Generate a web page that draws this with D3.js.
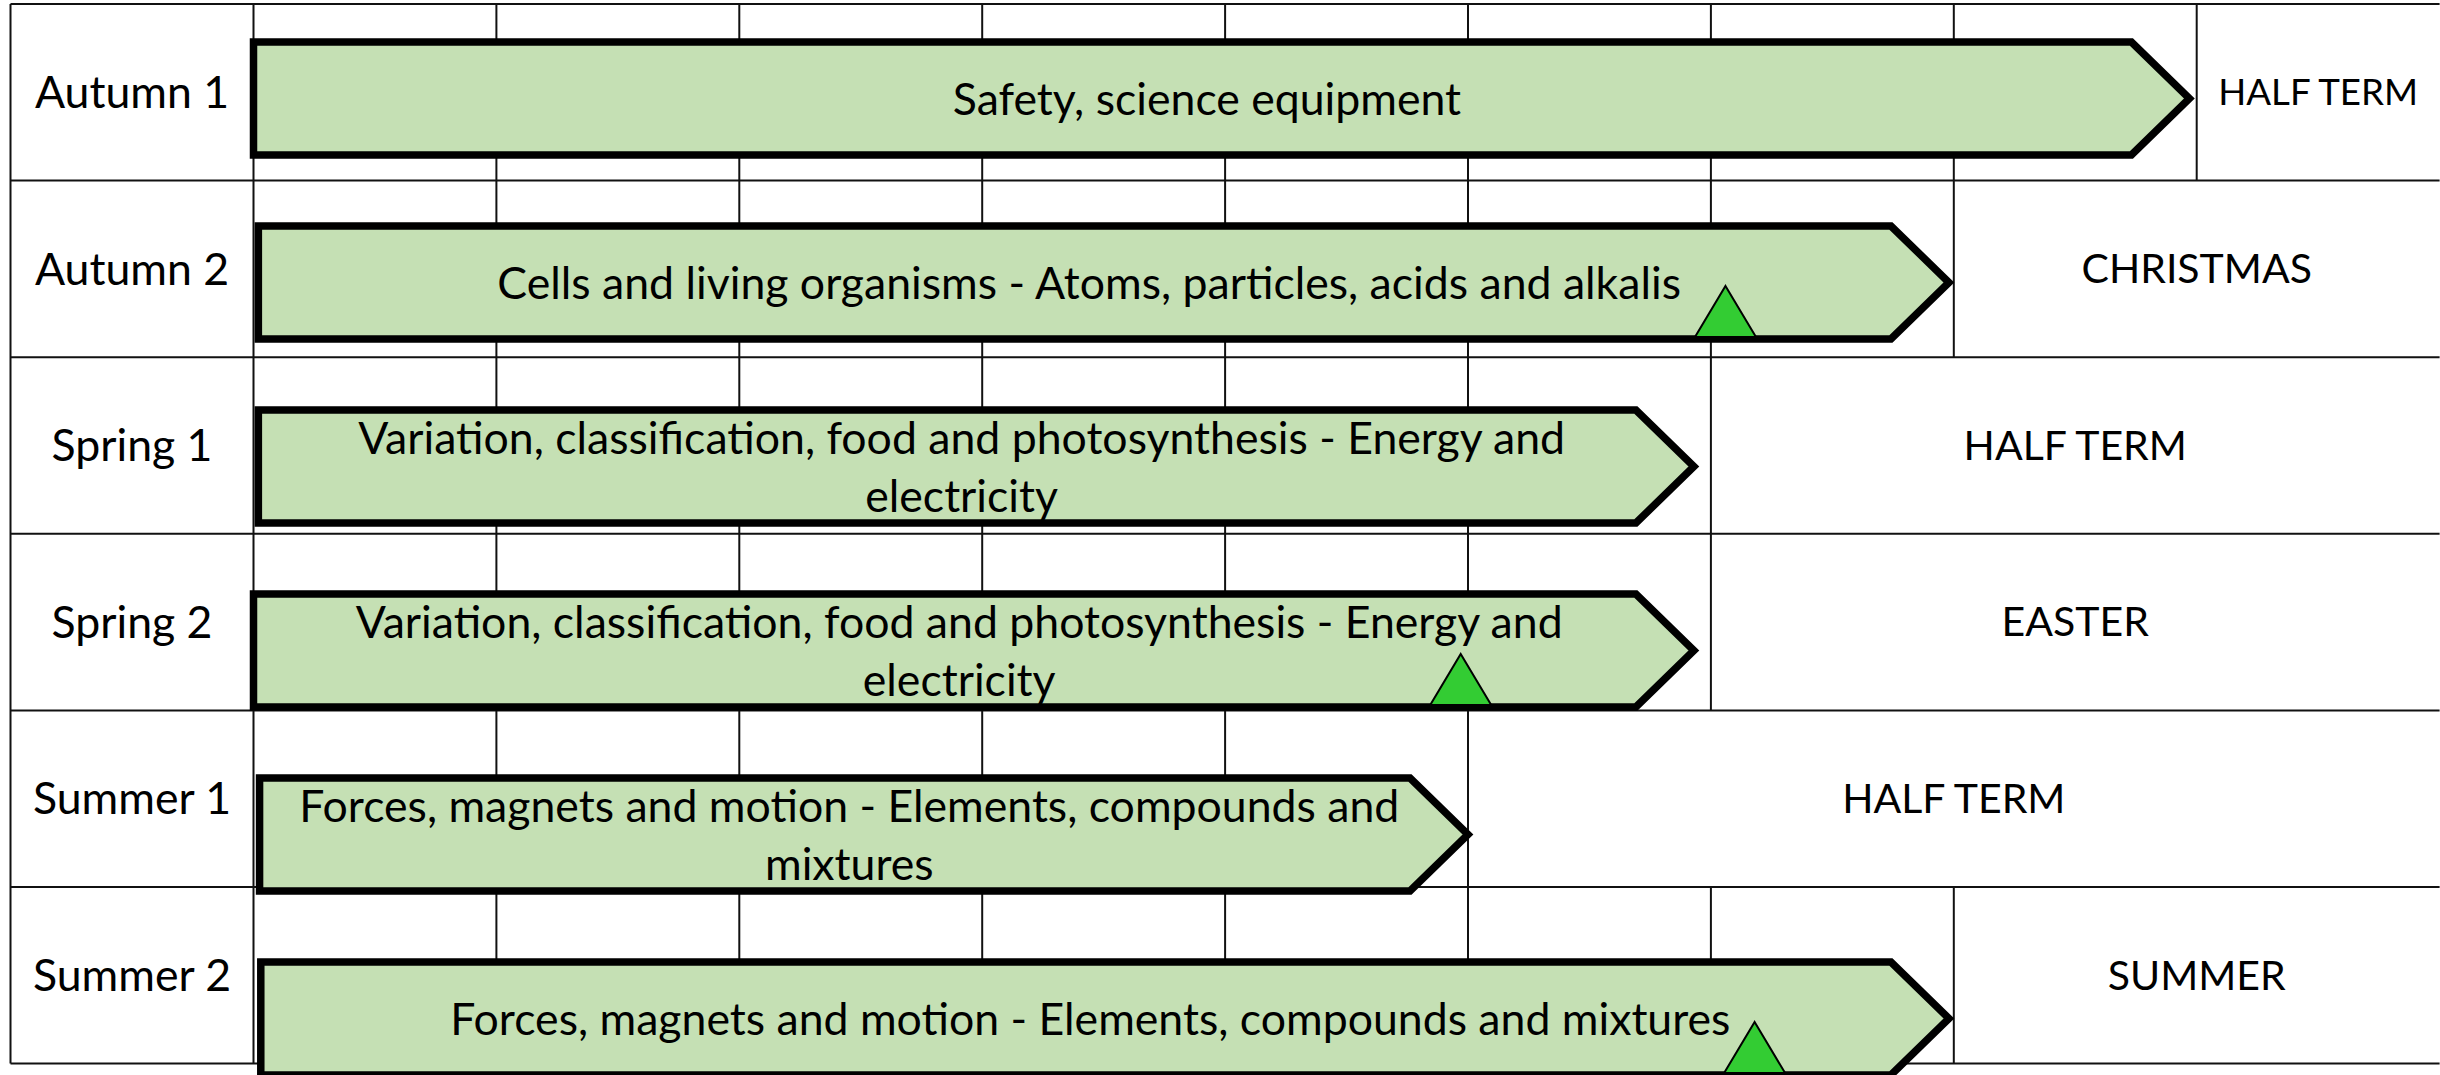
<!DOCTYPE html>
<html>
<head>
<meta charset="utf-8">
<script src="https://cdn.jsdelivr.net/npm/d3@7"></script>
<style>
  html, body { margin: 0; padding: 0; background: #ffffff; }
  svg { display: block; }
  text { font-family: Lato, "Open Sans", sans-serif; fill: #000; }
</style>
</head>
<body>
<svg id="chart" width="2440" height="1075"></svg>
<script>
// ---- data ----
const terms = ["Autumn 1", "Autumn 2", "Spring 1", "Spring 2", "Summer 1", "Summer 2"];
const topicLines = [
  ["Safety, science equipment"],
  ["Cells and living organisms - Atoms, particles, acids and alkalis"],
  ["Variation, classification, food and photosynthesis - Energy and", "electricity"],
  ["Variation, classification, food and photosynthesis - Energy and", "electricity"],
  ["Forces, magnets and motion - Elements, compounds and", "mixtures"],
  ["Forces, magnets and motion - Elements, compounds and mixtures"]
];
const topicStartWeek = [0, 0.02, 0.02, 0, 0.025, 0.03];
const topicEndWeek = [7.97, 6.98, 5.93, 5.93, 5.0, 6.98];
const holidayLabels = ["HALF TERM", "CHRISTMAS", "HALF TERM", "EASTER", "HALF TERM", "SUMMER"];
const holidayStartWeek = [8, 7, 6, 6, 5, 7];
const assessmentWeek = [null, 6.06, null, 4.97, null, 6.18];
const totalWeeks = 9;

// ---- layout ----
const W = 2440, H = 1075;
const tableLeft = 10.5, tableTop = 4, tableBottom = 1063.6;
const labelRight = 253.5, tableRight = 2439.6;
const fontSize = 44.6;
const holidayFont = 41, holidayFontNarrow = 36.7;
const arrowH = 113, chevron = 58;

const svg = d3.select("#chart");
svg.append("rect").attr("width", W).attr("height", H).attr("fill", "#fff");

const x = d3.scaleLinear().domain([0, totalWeeks]).range([labelRight, tableRight]);
const row = d3.scaleBand().domain(terms).range([tableTop, tableBottom]).padding(0);
const arrowTop = d3.scaleLinear().domain([0, terms.length - 1]).range([42, 962]);

const rows = terms.map((t, i) => ({
  term: t, i,
  lines: topicLines[i],
  start: topicStartWeek[i],
  end: topicEndWeek[i],
  holiday: holidayLabels[i],
  hStart: holidayStartWeek[i],
  assess: assessmentWeek[i]
}));

// ---- grid ----
const grid = svg.append("g").attr("stroke", "#111").attr("stroke-width", 2).attr("fill", "none");
rows.forEach(r => {
  const y0 = row(r.term), y1 = y0 + row.bandwidth();
  d3.range(1, r.hStart + 1).forEach(k => {
    grid.append("line").attr("x1", x(k)).attr("x2", x(k)).attr("y1", y0).attr("y2", y1);
  });
});
[tableLeft, labelRight].forEach(xx => {
  grid.append("line").attr("x1", xx).attr("x2", xx).attr("y1", tableTop).attr("y2", tableBottom);
});
d3.range(0, terms.length + 1).forEach(i => {
  const yy = i < terms.length ? row(terms[i]) : tableBottom;
  grid.append("line").attr("x1", tableLeft).attr("x2", tableRight).attr("y1", yy).attr("y2", yy);
});

// ---- row labels ----
svg.append("g").selectAll("text").data(rows).join("text")
  .attr("x", (tableLeft + labelRight) / 2)
  .attr("y", d => row(d.term) + row.bandwidth() / 2)
  .attr("dy", "0.35em")
  .attr("text-anchor", "middle")
  .attr("font-size", fontSize)
  .text(d => d.term);

// ---- holiday labels ----
svg.append("g").selectAll("text").data(rows).join("text")
  .attr("x", d => (x(d.hStart) + tableRight) / 2)
  .attr("y", d => row(d.term) + row.bandwidth() / 2)
  .attr("dy", "0.35em")
  .attr("text-anchor", "middle")
  .attr("font-size", d => (tableRight - x(d.hStart)) < 300 ? holidayFontNarrow : holidayFont)
  .text(d => d.holiday);

// ---- arrows ----
const arrowG = svg.append("g");
rows.forEach(r => {
  const x0 = x(r.start), x1 = x(r.end);
  const top = arrowTop(r.i), bot = top + arrowH, mid = (top + bot) / 2;
  const p = d3.path();
  p.moveTo(x0, top);
  p.lineTo(x1 - chevron, top);
  p.lineTo(x1, mid);
  p.lineTo(x1 - chevron, bot);
  p.lineTo(x0, bot);
  p.closePath();
  arrowG.append("path").attr("d", p.toString())
    .attr("fill", "#c5e0b4").attr("stroke", "#000")
    .attr("stroke-width", 7.5).attr("stroke-linejoin", "miter");

  const cx = (x0 + x1 - chevron / 2) / 2;
  const lineGap = 58;
  const n = r.lines.length;
  const t = arrowG.append("text").attr("text-anchor", "middle").attr("font-size", fontSize);
  r.lines.forEach((ln, j) => {
    t.append("tspan").attr("x", cx)
      .attr("y", mid + (j - (n - 1) / 2) * lineGap + fontSize * 0.36)
      .text(ln);
  });
});

// ---- assessment markers ----
const triW = 61, triH = 51;
rows.filter(r => r.assess != null).forEach(r => {
  const ax = x(r.assess);
  const base = arrowTop(r.i) + arrowH - 2;
  const p = d3.path();
  p.moveTo(ax, base - triH);
  p.lineTo(ax + triW / 2, base);
  p.lineTo(ax - triW / 2, base);
  p.closePath();
  svg.append("path").attr("d", p.toString())
    .attr("fill", "#33cc33").attr("stroke", "#000").attr("stroke-width", 2)
    .attr("stroke-linejoin", "miter");
});
</script>
</body>
</html>
